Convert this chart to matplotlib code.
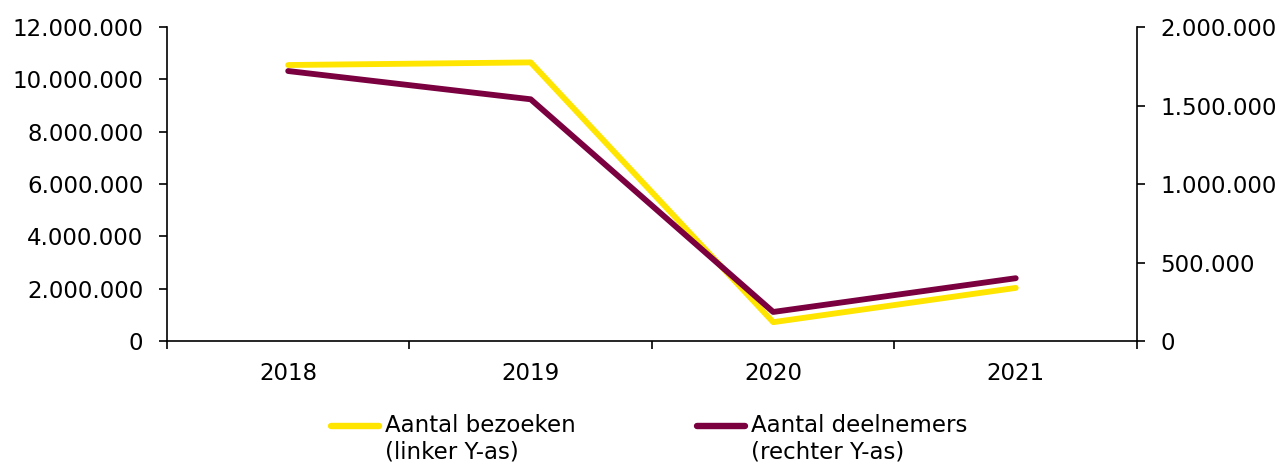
import matplotlib
matplotlib.use("Agg")
import matplotlib.pyplot as plt
from matplotlib.ticker import FuncFormatter, FixedLocator

# Data
years = ["2018", "2019", "2020", "2021"]
bezoeken = [10_550_000, 10_650_000, 720_000, 2_030_000]   # linker Y-as
deelnemers = [1_720_000, 1_540_000, 185_000, 400_000]     # rechter Y-as

left_ticks = [0, 2_000_000, 4_000_000, 6_000_000, 8_000_000, 10_000_000, 12_000_000]
right_ticks = [0, 500_000, 1_000_000, 1_500_000, 2_000_000]

label_bez = "Aantal bezoeken\n(linker Y-as)"
label_dln = "Aantal deelnemers\n(rechter Y-as)"

YELLOW = "#FFE500"
MAROON = "#7A0040"

plt.rcParams["font.family"] = ["DejaVu Sans"]
plt.rcParams["font.size"] = 16.5


def dutch(v, pos=None):
    return f"{int(round(v)):,}".replace(",", ".")


fig = plt.figure(figsize=(12.84, 4.63), dpi=100)
ax = fig.add_axes([0.130, 0.2635, 0.7555, 0.678])
ax2 = ax.twinx()

x = list(range(len(years)))
l1, = ax.plot(x, bezoeken, color=YELLOW, linewidth=4.2, solid_capstyle="round",
              solid_joinstyle="round", label=label_bez, zorder=2)
l2, = ax2.plot(x, deelnemers, color=MAROON, linewidth=4.2, solid_capstyle="round",
               solid_joinstyle="round", label=label_dln, zorder=3)

ax.set_xlim(-0.5, len(years) - 0.5)
ax.set_ylim(0, 12_000_000)
ax2.set_ylim(0, 2_000_000)

ax.yaxis.set_major_locator(FixedLocator(left_ticks))
ax2.yaxis.set_major_locator(FixedLocator(right_ticks))
ax.yaxis.set_major_formatter(FuncFormatter(dutch))
ax2.yaxis.set_major_formatter(FuncFormatter(dutch))

# categories centred between tick marks (Excel style)
ax.set_xticks(x)
ax.set_xticklabels(years)
ax.set_xticks([i - 0.5 for i in range(len(years) + 1)], minor=True)
ax.tick_params(axis="x", which="major", length=0, pad=15)
ax.tick_params(axis="x", which="minor", length=6, width=1.2, direction="out")
ax.tick_params(axis="y", length=6, width=1.2, direction="out", pad=11)
ax2.tick_params(axis="y", length=6, width=1.2, direction="out", pad=11)

for a in (ax, ax2):
    a.spines["top"].set_visible(False)
    for s in ("left", "right", "bottom"):
        a.spines[s].set_linewidth(1.2)
ax.spines["right"].set_visible(False)
ax2.spines["left"].set_visible(False)
ax2.spines["bottom"].set_visible(False)

leg = fig.legend([l1, l2], [label_bez, label_dln], loc="upper left",
                 bbox_to_anchor=(0.249, 0.131), ncol=2, frameon=False,
                 borderpad=0, handlelength=2.1, handletextpad=0.25,
                 columnspacing=5.3, fontsize=16.5, labelspacing=0)
# put the legend lines next to the first text line, as in the original
for h in leg.legend_handles:
    h.set_ydata([y + 10 for y in h.get_ydata()])
    h.set_linewidth(4.6)

fig.savefig("out.png", dpi=100)
